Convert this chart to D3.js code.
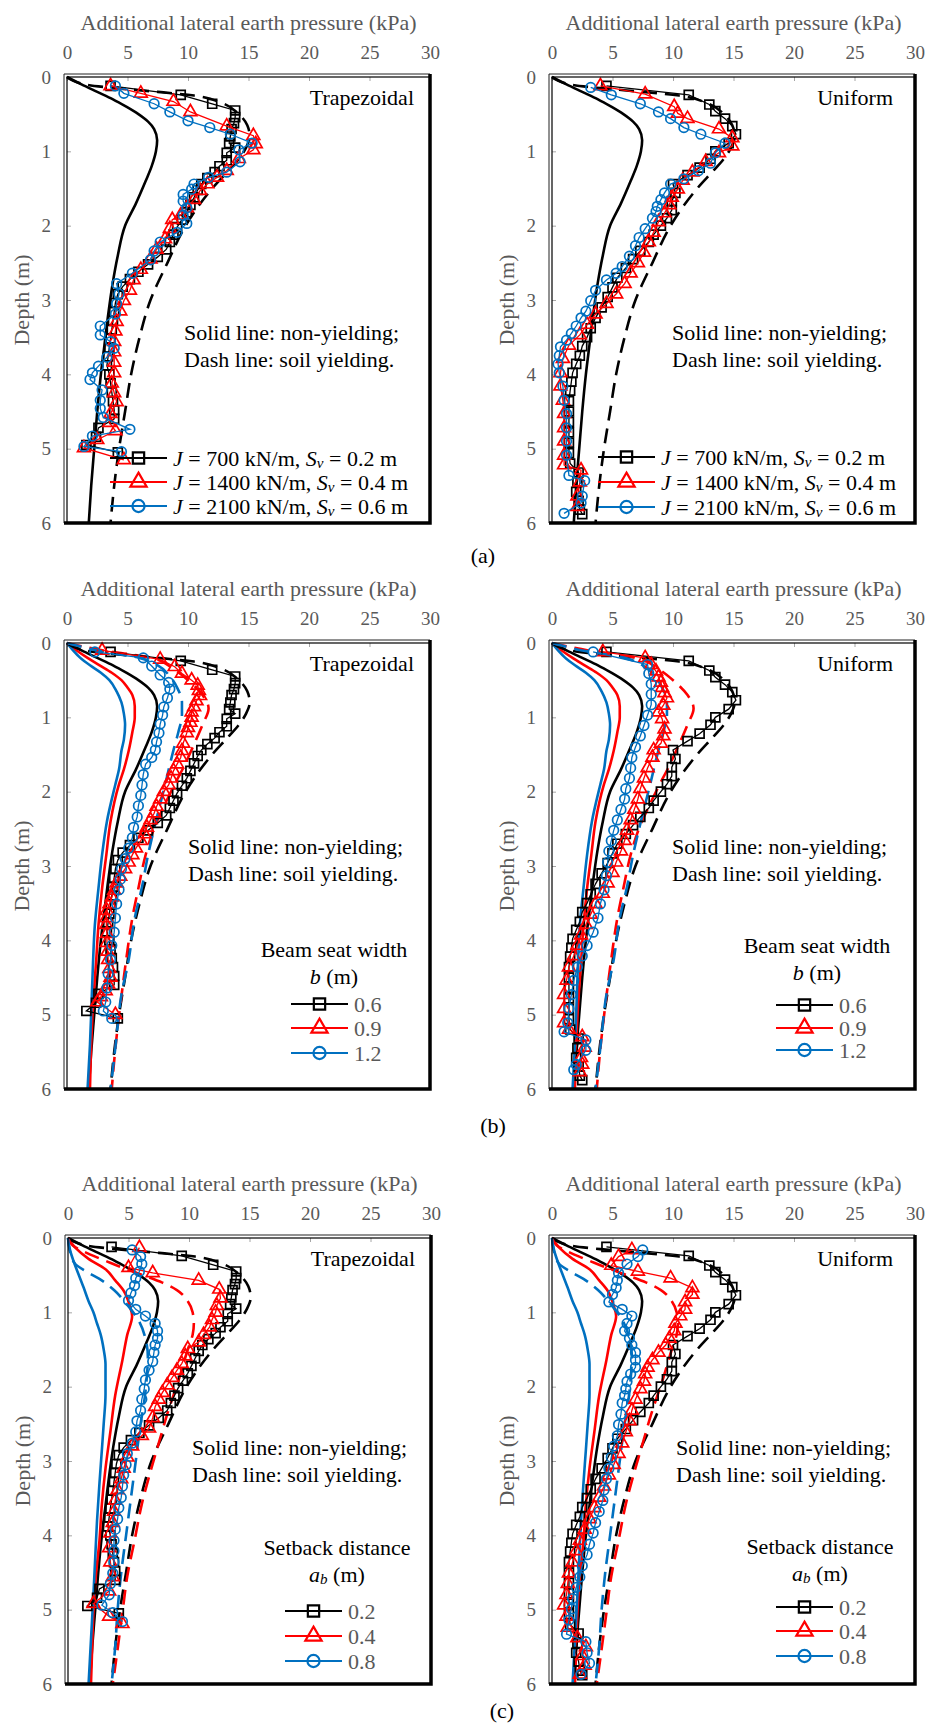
<!DOCTYPE html>
<html>
<head>
<meta charset="utf-8">
<script src="https://cdn.jsdelivr.net/npm/d3@7"></script>
<style>
body { margin: 0; background: #fff; }
svg { display: block; }
svg text { font-family: "Liberation Serif", "DejaVu Serif", serif; }
</style>
</head>
<body>
<script>
// ---- data: [depth (m), additional lateral earth pressure (kPa)] ----

var xTicks = [0, 5, 10, 15, 20, 25, 30];
var yTicks = [0, 1, 2, 3, 4, 5, 6];

// analytical curves (solid = non-yielding, dash = soil yielding)
var anaSolidBase = [[0,0],[0.1,1.2],[0.2,2.5],[0.3,3.8],[0.4,4.9],[0.5,5.9],[0.6,6.7],[0.7,7.2],[0.85,7.45],[1.0,7.35],[1.2,7.0],[1.4,6.5],[1.7,5.7],[2.0,4.8],[2.4,4.2],[2.8,3.75],[3.2,3.4],[3.6,3.1],[4.0,2.8],[4.5,2.5],[5.0,2.25],[5.5,2.0],[6.0,1.8]];
var anaDashBase = [[0,0],[0.1,1.5],[0.15,4],[0.2,7.5],[0.25,10.5],[0.35,12.8],[0.5,14.2],[0.65,14.9],[0.8,15.1],[0.95,14.8],[1.1,14.2],[1.25,13.4],[1.5,12.0],[1.75,10.8],[2.0,9.8],[2.5,8.3],[3.0,6.9],[3.5,6.0],[4.0,5.3],[4.5,4.8],[5.0,4.3],[5.5,3.9],[6.0,3.6]];

var anaSolidB09 = [[0,0],[0.1,0.8],[0.2,1.7],[0.3,2.7],[0.4,3.7],[0.5,4.5],[0.6,5.0],[0.7,5.4],[0.85,5.6],[1.0,5.6],[1.2,5.4],[1.45,5.1],[1.7,4.7],[1.9,4.3],[2.4,3.6],[2.85,3.25],[3.3,2.9],[3.8,2.6],[4.3,2.4],[4.75,2.2],[5.4,2.0],[6.0,1.9]];
var anaSolidB12 = [[0,0],[0.1,0.5],[0.2,1.1],[0.3,1.9],[0.4,2.8],[0.5,3.5],[0.65,4.1],[0.8,4.5],[0.95,4.7],[1.1,4.8],[1.3,4.7],[1.45,4.5],[1.7,4.3],[1.9,4.0],[2.4,3.3],[2.85,2.9],[3.3,2.6],[3.8,2.3],[4.3,2.15],[4.75,2.05],[5.4,1.9],[6.0,1.7]];
var anaDashB09 = [[0,0],[0.1,3],[0.2,7],[0.35,8.8],[0.5,10],[0.7,11.2],[0.88,11.7],[1.1,11.2],[1.4,10.4],[1.65,9.7],[1.9,8.9],[2.2,8],[2.45,7.3],[2.85,6.5],[3.3,5.9],[3.7,5.4],[4.25,4.9],[4.75,4.5],[5.45,4],[6,3.7]];
var anaDashB12 = [[0,0],[0.1,2.5],[0.2,6.0],[0.3,7.5],[0.45,8.5],[0.6,9.1],[0.8,9.5],[0.97,9.5],[1.2,9.2],[1.44,8.8],[1.91,8.1],[2.43,7.3],[2.85,6.7],[3.28,6.2],[3.7,5.6],[4.26,5.1],[4.73,4.5],[5.44,4.0],[6,3.6]];

var anaSolidA04 = [[0,0],[0.13,0.6],[0.28,1.7],[0.42,3.1],[0.57,3.9],[0.71,4.6],[0.91,5.1],[1.05,5.3],[1.3,4.9],[1.64,4.5],[2.12,3.9],[2.61,3.5],[3.1,3.1],[3.58,2.8],[4.07,2.6],[4.55,2.3],[5.04,2.1],[5.5,2.0],[6,1.9]];
var anaSolidA08 = [[0,0],[0.15,0.15],[0.33,0.5],[0.5,0.9],[0.67,1.3],[0.85,1.7],[1.0,2.1],[1.15,2.4],[1.3,2.7],[1.5,2.95],[1.7,3.1],[2.1,3.1],[2.5,2.95],[2.85,2.8],[3.3,2.6],[3.8,2.4],[4.3,2.25],[4.8,2.1],[5.4,1.9],[6,1.7]];
var anaDashA04 = [[0,0],[0.1,0.4],[0.22,1.8],[0.3,3.0],[0.4,4.5],[0.5,6.2],[0.6,7.8],[0.7,9.0],[0.85,9.9],[1.0,10.3],[1.15,10.4],[1.3,10.3],[1.5,9.9],[1.88,9.2],[2.37,8.2],[2.76,7.5],[3.15,6.8],[3.58,6.1],[4.07,5.5],[4.55,4.9],[5.04,4.5],[5.53,4.1],[6,3.7]];
var anaDashA08 = [[0,0],[0.2,0.2],[0.35,0.6],[0.45,1.5],[0.55,2.6],[0.7,3.8],[0.9,4.9],[1.1,5.8],[1.35,6.4],[1.6,6.6],[1.9,6.5],[2.2,6.3],[2.5,6.0],[3.0,5.6],[3.5,5.2],[4.0,4.8],[4.5,4.4],[5.0,4.1],[5.5,3.9],[6,3.6]];

// numerical results (markers); base case shared by (a), (b), (c)
var trapBase = [[0.12,3.6],[0.24,9.4],[0.36,12.0],[0.45,13.9],[0.54,13.9],[0.62,13.8],[0.7,13.6],[0.8,13.5],[0.89,13.4],[0.95,13.9],[1.02,13.2],[1.12,13.2],[1.2,12.6],[1.28,12.2],[1.36,11.6],[1.44,11.1],[1.52,10.8],[1.62,10.5],[1.72,10.2],[1.82,9.9],[1.92,9.5],[2.02,9.1],[2.12,8.8],[2.22,8.5],[2.32,8.2],[2.42,7.5],[2.52,6.7],[2.62,5.9],[2.72,5.2],[2.82,4.6],[2.92,4.2],[3.04,4.0],[3.16,3.9],[3.28,3.8],[3.4,3.7],[3.52,3.6],[3.64,3.5],[3.76,3.4],[3.88,3.3],[4.0,3.5],[4.12,3.6],[4.24,3.7],[4.36,3.8],[4.48,3.9],[4.6,3.9],[4.72,2.6],[4.84,2.4],[4.95,1.6],[5.05,4.2]];
var unifBase = [[0.12,4.5],[0.24,11.3],[0.37,13.0],[0.46,13.5],[0.56,14.3],[0.66,14.9],[0.77,15.2],[0.89,14.6],[1.0,13.5],[1.1,13.1],[1.22,12.2],[1.32,11.2],[1.44,10.0],[1.56,10.2],[1.67,9.9],[1.79,9.9],[1.9,9.5],[2.0,9.0],[2.12,8.4],[2.22,8.0],[2.34,7.3],[2.45,6.7],[2.57,6.1],[2.7,5.4],[2.83,5.0],[2.96,4.6],[3.1,4.1],[3.24,3.6],[3.38,3.2],[3.5,2.9],[3.62,2.5],[3.75,2.3],[3.86,2.0],[3.98,1.7],[4.1,1.6],[4.22,1.5],[4.36,1.4],[4.5,1.4],[4.64,1.4],[4.78,1.4],[4.92,1.4],[5.06,1.4],[5.2,1.5],[5.32,2.2],[5.45,2.1],[5.58,2.0],[5.7,2.2],[5.82,2.3],[5.88,2.5]];

var trapJ1400 = [[0.12,3.6],[0.22,6.1],[0.33,8.8],[0.47,10.2],[0.66,13.2],[0.79,15.4],[0.9,15.6],[0.98,15.4],[1.1,14.2],[1.26,13.2],[1.35,12.4],[1.44,11.6],[1.53,11.0],[1.65,10.5],[1.76,9.9],[1.86,9.4],[1.92,8.7],[2.04,8.5],[2.18,8.1],[2.32,7.4],[2.45,6.9],[2.59,6.1],[2.73,5.5],[2.87,5.2],[3.01,4.7],[3.15,4.4],[3.29,4.1],[3.42,4.0],[3.56,3.9],[3.7,3.9],[3.84,3.9],[3.98,3.9],[4.12,3.7],[4.25,3.9],[4.37,4.1],[4.53,3.6],[4.65,3.5],[4.76,4.0],[4.88,2.5],[4.99,1.4],[5.15,4.7]];
var trapJ2100 = [[0.12,4.0],[0.22,4.7],[0.36,7.2],[0.47,8.5],[0.59,10.0],[0.68,11.8],[0.77,13.5],[0.89,15.3],[0.98,14.2],[1.14,14.3],[1.28,13.2],[1.35,11.7],[1.44,10.5],[1.51,10.3],[1.58,9.6],[1.67,9.6],[1.76,9.9],[1.86,9.6],[1.97,9.9],[2.09,9.1],[2.22,7.7],[2.34,7.2],[2.46,6.9],[2.64,5.4],[2.78,4.1],[2.92,4.3],[3.05,4.1],[3.19,4.0],[3.35,2.75],[3.47,2.75],[3.56,3.6],[3.65,3.9],[3.77,3.3],[3.89,2.6],[3.98,2.1],[4.07,1.9],[4.21,2.9],[4.35,2.75],[4.46,2.75],[4.58,3.0],[4.74,5.2],[4.83,2.1],[4.97,1.4],[5.04,4.5]];
var unifJ1400 = [[0.12,4.0],[0.23,7.7],[0.4,10.1],[0.49,10.4],[0.56,11.2],[0.7,13.8],[0.82,14.9],[0.93,14.9],[1.02,13.8],[1.14,12.7],[1.28,11.6],[1.39,10.8],[1.51,10.4],[1.62,9.9],[1.72,9.7],[1.83,9.3],[1.95,8.8],[2.09,8.4],[2.22,8.0],[2.36,7.6],[2.5,7.1],[2.64,6.5],[2.78,6.0],[2.92,5.3],[3.05,4.5],[3.19,3.6],[3.33,2.9],[3.47,2.3],[3.61,1.4],[3.79,0.9],[3.98,0.7],[4.16,0.7],[4.35,0.9],[4.53,1.0],[4.72,1.0],[4.9,1.0],[5.09,1.0],[5.22,1.0],[5.29,2.4],[5.45,2.3],[5.64,2.1],[5.78,2.1]];
var unifJ2100 = [[0.14,3.2],[0.24,4.9],[0.36,7.3],[0.47,8.8],[0.56,9.8],[0.68,10.9],[0.77,12.3],[0.89,14.3],[1.02,13.5],[1.16,13.1],[1.26,12.1],[1.37,10.9],[1.44,9.8],[1.56,9.3],[1.65,9.0],[1.74,8.7],[1.81,8.6],[1.9,8.3],[2.04,7.7],[2.16,7.2],[2.27,6.9],[2.41,6.4],[2.55,5.8],[2.64,5.3],[2.73,4.5],[2.87,3.6],[3.01,3.2],[3.15,2.8],[3.24,2.4],[3.35,2.0],[3.45,1.6],[3.54,1.2],[3.63,0.7],[3.75,0.6],[3.86,0.5],[3.98,0.6],[4.16,0.9],[4.35,1.0],[4.53,1.2],[4.72,1.2],[4.9,1.2],[5.09,1.2],[5.36,1.4],[5.43,2.7],[5.64,2.5],[5.73,2.4],[5.87,1.0]];

var trapB09 = [[0.1,2.9],[0.22,7.7],[0.32,8.9],[0.41,9.5],[0.5,10.3],[0.57,10.8],[0.64,10.9],[0.71,11.0],[0.78,10.7],[0.86,10.5],[0.93,10.3],[1.0,10.3],[1.07,10.2],[1.14,10.0],[1.21,9.9],[1.35,9.6],[1.45,9.5],[1.54,9.4],[1.63,9.1],[1.72,8.8],[1.82,8.6],[1.91,8.4],[2.0,8.0],[2.1,7.7],[2.2,7.4],[2.29,7.2],[2.38,6.9],[2.48,6.6],[2.57,6.4],[2.66,6.1],[2.76,5.7],[2.85,5.4],[2.95,5.1],[3.04,4.8],[3.14,4.4],[3.23,4.1],[3.33,3.9],[3.42,3.7],[3.51,3.5],[3.6,3.3],[3.7,3.25],[3.79,3.25],[3.91,3.3],[4.03,3.3],[4.15,3.35],[4.26,3.4],[4.38,3.5],[4.5,3.6],[4.59,3.4],[4.68,3.2],[4.76,2.8],[4.83,2.5],[5.0,4.0]];
var trapB12 = [[0.12,2.3],[0.2,6.3],[0.31,7.0],[0.43,7.7],[0.53,8.4],[0.62,8.5],[0.74,8.3],[0.86,8.0],[0.97,7.9],[1.09,7.7],[1.21,7.6],[1.33,7.4],[1.44,7.3],[1.54,7.0],[1.63,6.5],[1.77,6.3],[1.91,6.2],[2.05,6.1],[2.19,5.9],[2.34,5.8],[2.48,5.5],[2.62,5.4],[2.76,5.1],[2.9,4.8],[3.04,4.5],[3.18,4.4],[3.32,4.3],[3.51,4.1],[3.7,4.0],[3.89,3.9],[4.07,3.7],[4.26,3.6],[4.45,3.4],[4.64,3.3],[4.83,3.2],[4.95,3.0],[5.05,3.7]];
var unifB09 = [[0.12,4.2],[0.2,7.7],[0.29,8.2],[0.38,8.6],[0.46,8.8],[0.53,9.0],[0.6,9.1],[0.67,9.3],[0.74,9.5],[0.84,9.2],[0.93,8.8],[1.02,9.1],[1.16,9.3],[1.25,9.2],[1.35,9.0],[1.44,8.4],[1.54,8.3],[1.68,7.9],[1.82,7.6],[1.96,7.3],[2.1,7.1],[2.24,6.8],[2.38,6.5],[2.52,6.2],[2.66,6.0],[2.8,5.7],[2.95,5.3],[3.09,5.0],[3.23,4.6],[3.37,4.2],[3.51,3.6],[3.65,3.2],[3.79,2.8],[3.93,2.4],[4.07,2.1],[4.21,1.8],[4.36,1.4],[4.54,1.2],[4.73,1.0],[4.92,1.0],[5.11,1.0],[5.2,1.4],[5.3,2.5],[5.44,2.7],[5.58,2.4],[5.67,2.5],[5.77,2.3]];
var unifB12 = [[0.12,3.4],[0.29,7.9],[0.41,8.0],[0.55,8.2],[0.69,8.2],[0.83,8.2],[0.97,7.9],[1.11,7.6],[1.25,7.3],[1.4,6.9],[1.54,6.6],[1.68,6.5],[1.82,6.4],[1.96,6.1],[2.1,6.0],[2.24,5.7],[2.38,5.4],[2.52,5.1],[2.66,4.9],[2.8,4.7],[2.95,4.6],[3.13,4.5],[3.32,4.3],[3.51,4.0],[3.7,3.8],[3.89,3.4],[4.07,2.9],[4.21,2.5],[4.36,2.1],[4.54,1.8],[4.73,1.6],[4.92,1.4],[5.11,1.3],[5.23,1.0],[5.34,2.8],[5.48,2.8],[5.67,2.0],[5.74,1.8]];

var trapA04 = [[0.13,5.9],[0.4,5.0],[0.47,7.0],[0.57,10.8],[0.69,12.5],[0.81,12.6],[0.91,12.3],[1.0,12.2],[1.1,11.9],[1.2,11.7],[1.3,11.2],[1.4,10.8],[1.49,9.9],[1.59,9.7],[1.69,9.4],[1.78,9.0],[1.88,8.6],[1.98,8.2],[2.08,7.8],[2.17,7.5],[2.27,7.2],[2.42,7.0],[2.56,6.7],[2.66,6.1],[2.8,5.3],[2.95,4.9],[3.1,4.6],[3.24,4.4],[3.39,4.1],[3.53,3.9],[3.68,3.8],[3.83,3.7],[3.97,3.5],[4.17,3.4],[4.36,3.5],[4.56,3.7],[4.75,3.4],[4.92,2.1],[5.09,3.4],[5.19,4.5]];
var trapA08 = [[0.16,5.3],[0.25,6.0],[0.35,6.1],[0.45,5.9],[0.54,5.6],[0.64,5.5],[0.74,5.2],[0.84,5.0],[0.96,5.6],[1.05,6.4],[1.15,7.2],[1.25,7.4],[1.35,7.4],[1.44,7.2],[1.54,7.1],[1.66,7.0],[1.78,6.7],[1.91,6.4],[2.03,6.3],[2.17,6.1],[2.32,6.0],[2.46,5.7],[2.61,5.6],[2.76,5.3],[2.9,4.9],[3.05,4.8],[3.19,4.6],[3.34,4.5],[3.49,4.4],[3.63,4.2],[3.78,4.1],[3.92,3.9],[4.07,3.8],[4.21,3.8],[4.36,3.8],[4.51,3.7],[4.65,3.5],[4.8,3.4],[4.94,2.8],[5.04,3.7],[5.16,4.5]];
var unifA04 = [[0.16,6.6],[0.25,5.5],[0.37,4.9],[0.45,7.1],[0.54,9.8],[0.67,11.6],[0.76,11.6],[0.86,11.0],[0.96,11.0],[1.05,10.6],[1.15,10.2],[1.25,10.1],[1.35,9.7],[1.44,9.4],[1.54,8.8],[1.64,8.3],[1.74,7.9],[1.83,7.7],[1.93,7.6],[2.03,7.3],[2.17,6.9],[2.32,6.6],[2.46,6.4],[2.61,6.1],[2.76,5.8],[2.9,5.5],[3.05,5.1],[3.19,4.7],[3.34,4.3],[3.49,3.9],[3.63,3.5],[3.78,3.1],[3.92,2.7],[4.07,2.3],[4.21,2.0],[4.36,1.7],[4.51,1.4],[4.65,1.3],[4.8,1.2],[4.94,1.0],[5.09,1.2],[5.24,1.3],[5.38,2.1],[5.5,2.8],[5.62,2.5],[5.75,2.7],[5.87,2.3]];
var unifA08 = [[0.16,7.5],[0.25,7.1],[0.35,6.2],[0.47,5.5],[0.57,5.4],[0.67,5.3],[0.76,5.0],[0.86,4.7],[0.96,5.8],[1.05,6.6],[1.15,6.2],[1.25,6.0],[1.35,6.4],[1.44,6.6],[1.54,6.9],[1.64,6.9],[1.74,6.9],[1.83,6.5],[1.93,6.2],[2.03,6.1],[2.12,6.0],[2.22,5.8],[2.37,5.7],[2.51,5.5],[2.66,5.4],[2.8,5.1],[2.95,4.9],[3.1,4.7],[3.24,4.5],[3.39,4.3],[3.53,4.2],[3.68,3.9],[3.83,3.6],[3.97,3.4],[4.12,3.1],[4.26,2.9],[4.41,2.5],[4.56,2.3],[4.7,2.0],[4.85,1.7],[4.99,1.6],[5.14,1.4],[5.33,1.2],[5.43,2.8],[5.58,2.9],[5.72,3.1],[5.87,2.4]];

var legendJ = [["700", "0.2"], ["1400", "0.4"], ["2100", "0.6"]];
var legendB = ["0.6", "0.9", "1.2"];
var legendA = ["0.2", "0.4", "0.8"];

// ---- layout ----
var W = 927, H = 1724;
var PW = 363, PH = 446;
var BLACK = "#000", RED = "#ff0000", BLUE = "#0070c0", GREY = "#595959";

var svg = d3.select("body").append("svg")
    .attr("width", W)
    .attr("height", H);

var panels = [
  {x0: 67,  y0: 77,   tag: "Trapezoidal", tagDx: 16, note: [184, 332],
   ana: [[anaSolidBase, BLACK, false], [anaDashBase, BLACK, true]],
   pts: [trapBase, trapJ1400, trapJ2100], leg: "J", legY: [458, 482, 506], legX: 110},
  {x0: 552, y0: 77,   tag: "Uniform", tagDx: 22, note: [672, 332],
   ana: [[anaSolidBase, BLACK, false], [anaDashBase, BLACK, true]],
   pts: [unifBase, unifJ1400, unifJ2100], leg: "J", legY: [457, 482, 507], legX: 598},
  {x0: 67,  y0: 643,  tag: "Trapezoidal", tagDx: 16, note: [188, 846],
   ana: [[anaSolidBase, BLACK, false], [anaSolidB09, RED, false], [anaSolidB12, BLUE, false],
         [anaDashBase, BLACK, true], [anaDashB09, RED, true], [anaDashB12, BLUE, true]],
   pts: [trapBase, trapB09, trapB12], leg: "b", legY: [1004, 1028, 1053], legX: 291, headX: 334, headY: 949},
  {x0: 552, y0: 643,  tag: "Uniform", tagDx: 22, note: [672, 846],
   ana: [[anaSolidBase, BLACK, false], [anaSolidB09, RED, false], [anaSolidB12, BLUE, false],
         [anaDashBase, BLACK, true], [anaDashB09, RED, true], [anaDashB12, BLUE, true]],
   pts: [unifBase, unifB09, unifB12], leg: "b", legY: [1005, 1028, 1050], legX: 776, headX: 817, headY: 945},
  {x0: 68,  y0: 1238, tag: "Trapezoidal", tagDx: 16, note: [192, 1447],
   ana: [[anaSolidBase, BLACK, false], [anaSolidA04, RED, false], [anaSolidA08, BLUE, false],
         [anaDashBase, BLACK, true], [anaDashA04, RED, true], [anaDashA08, BLUE, true]],
   pts: [trapBase, trapA04, trapA08], leg: "a", legY: [1611, 1636, 1661], legX: 285, headX: 337, headY: 1547},
  {x0: 552, y0: 1238, tag: "Uniform", tagDx: 22, note: [676, 1447],
   ana: [[anaSolidBase, BLACK, false], [anaSolidA04, RED, false], [anaSolidA08, BLUE, false],
         [anaDashBase, BLACK, true], [anaDashA04, RED, true], [anaDashA08, BLUE, true]],
   pts: [unifBase, unifA04, unifA08], leg: "a", legY: [1607, 1631, 1656], legX: 776, headX: 820, headY: 1546}
];

var colors = [BLACK, RED, BLUE];
var shapes = [d3.symbolSquare, d3.symbolTriangle, d3.symbolCircle];
var sizes = [80, 72, 72];

function drawMarker(g, i, cx, cy) {
    g.append("path")
        .attr("d", d3.symbol().type(shapes[i]).size(sizes[i])())
        .attr("transform", "translate(" + cx + "," + cy + ")")
        .attr("fill", "none")
        .attr("stroke", colors[i])
        .attr("stroke-width", 1.7);
}

panels.forEach(function(p) {
    var x = d3.scaleLinear().domain([0, 30]).range([p.x0, p.x0 + PW]);
    var y = d3.scaleLinear().domain([0, 6]).range([p.y0, p.y0 + PH]);
    var g = svg.append("g");

    // axis titles
    g.append("text")
        .attr("x", p.x0 + PW / 2)
        .attr("y", p.y0 - 55)
        .attr("dominant-baseline", "central")
        .attr("text-anchor", "middle")
        .attr("font-size", 22)
        .attr("fill", GREY)
        .text("Additional lateral earth pressure (kPa)");

    g.append("text")
        .attr("transform", "translate(" + (p.x0 - 46) + "," + (p.y0 + PH / 2) + ") rotate(-90)")
        .attr("dominant-baseline", "central")
        .attr("text-anchor", "middle")
        .attr("font-size", 22)
        .attr("fill", GREY)
        .text("Depth (m)");

    // axes
    var xa = g.append("g")
        .attr("transform", "translate(0," + p.y0 + ")")
        .call(d3.axisTop(x).tickValues(xTicks).tickFormat(d3.format("d")).tickSize(-4).tickPadding(18));
    var ya = g.append("g")
        .attr("transform", "translate(" + p.x0 + ",0)")
        .call(d3.axisLeft(y).tickValues(yTicks).tickFormat(d3.format("d")).tickSize(-4).tickPadding(16));
    [xa, ya].forEach(function(a) {
        a.attr("font-family", null);
        a.select(".domain").remove();
        a.selectAll("line").attr("stroke", "#a6a6a6");
        a.selectAll("text")
            .attr("font-size", 19)
            .attr("fill", GREY);
    });

    // analytical lines
    var curve = d3.line()
        .x(function(d) { return x(d[1]); })
        .y(function(d) { return y(d[0]); })
        .curve(d3.curveMonotoneY);
    p.ana.forEach(function(a) {
        g.append("path")
            .attr("d", curve(a[0]))
            .attr("fill", "none")
            .attr("stroke", a[1])
            .attr("stroke-width", 2.6)
            .attr("stroke-dasharray", a[2] ? "15,8" : null);
    });

    // numerical results
    var link = d3.line()
        .x(function(d) { return x(d[1]); })
        .y(function(d) { return y(d[0]); });
    p.pts.forEach(function(s, i) {
        g.append("path")
            .attr("d", link(s))
            .attr("fill", "none")
            .attr("stroke", colors[i])
            .attr("stroke-width", 1.3);
        s.forEach(function(d) { drawMarker(g, i, x(d[1]), y(d[0])); });
    });

    // frame
    g.append("path")
        .attr("d", "M" + (p.x0 - 3) + "," + (p.y0 + PH) + "V" + (p.y0 - 3) + "H" + (p.x0 + PW))
        .attr("fill", "none").attr("stroke", "#222").attr("stroke-width", 1);
    g.append("rect")
        .attr("x", p.x0).attr("y", p.y0).attr("width", PW).attr("height", PH)
        .attr("fill", "none").attr("stroke", "#000").attr("stroke-width", 1.2);
    g.append("path")
        .attr("d", "M" + (p.x0 - 3) + "," + (p.y0 + PH) + "H" + (p.x0 + PW) + "V" + (p.y0 - 3))
        .attr("fill", "none").attr("stroke", "#000").attr("stroke-width", 3.5);

    // panel texts
    g.append("text")
        .attr("x", p.x0 + PW - p.tagDx)
        .attr("y", p.y0 + 20)
        .attr("dominant-baseline", "central")
        .attr("text-anchor", "end")
        .attr("font-size", 22)
        .text(p.tag);
    ["Solid line: non-yielding;", "Dash line: soil yielding."].forEach(function(t, k) {
        g.append("text")
            .attr("x", p.note[0])
            .attr("y", p.note[1] + k * 27)
            .attr("dominant-baseline", "central")
            .attr("font-size", 22)
            .text(t);
    });

    // legend
    if (p.leg !== "J") {
        g.append("text")
            .attr("x", p.headX).attr("y", p.headY)
            .attr("dominant-baseline", "central")
            .attr("text-anchor", "middle")
            .attr("font-size", 22)
            .text(p.leg === "b" ? "Beam seat width" : "Setback distance");
        var h2 = g.append("text")
            .attr("x", p.headX).attr("y", p.headY + 27)
            .attr("dominant-baseline", "central")
            .attr("text-anchor", "middle")
            .attr("font-size", 22);
        h2.append("tspan").attr("font-style", "italic").text(p.leg);
        if (p.leg === "a") {
            h2.append("tspan").attr("font-style", "italic").attr("font-size", 15).attr("dy", 5).text("b");
            h2.append("tspan").attr("dy", -5).text(" (m)");
        } else {
            h2.append("tspan").text(" (m)");
        }
    }
    var lineLen = 57;
    p.legY.forEach(function(ly, i) {
        g.append("line")
            .attr("x1", p.legX).attr("x2", p.legX + lineLen)
            .attr("y1", ly).attr("y2", ly)
            .attr("stroke", colors[i]).attr("stroke-width", 2.2);
        g.append("path")
            .attr("d", d3.symbol().type(shapes[i]).size(sizes[i] * 1.6)())
            .attr("transform", "translate(" + (p.legX + lineLen / 2) + "," + ly + ")")
            .attr("fill", "none")
            .attr("stroke", colors[i])
            .attr("stroke-width", 2.2);
        var t = g.append("text")
            .attr("x", p.legX + lineLen + 6)
            .attr("y", ly)
            .attr("dominant-baseline", "central")
            .attr("font-size", 22);
        if (p.leg === "J") {
            t.append("tspan").attr("font-style", "italic").text("J");
            t.append("tspan").text(" = " + legendJ[i][0] + " kN/m, ");
            t.append("tspan").attr("font-style", "italic").text("S");
            t.append("tspan").attr("font-style", "italic").attr("font-size", 15).attr("dy", 5).text("v");
            t.append("tspan").attr("dy", -5).text(" = " + legendJ[i][1] + " m");
        } else {
            t.attr("fill", GREY).text(p.leg === "b" ? legendB[i] : legendA[i]);
        }
    });
});

// sub-figure labels
[["(a)", 483, 555], ["(b)", 493, 1125], ["(c)", 502, 1710]].forEach(function(l) {
    svg.append("text")
        .attr("x", l[1]).attr("y", l[2])
        .attr("dominant-baseline", "central")
        .attr("text-anchor", "middle")
        .attr("font-size", 22)
        .text(l[0]);
});
</script>
</body>
</html>
